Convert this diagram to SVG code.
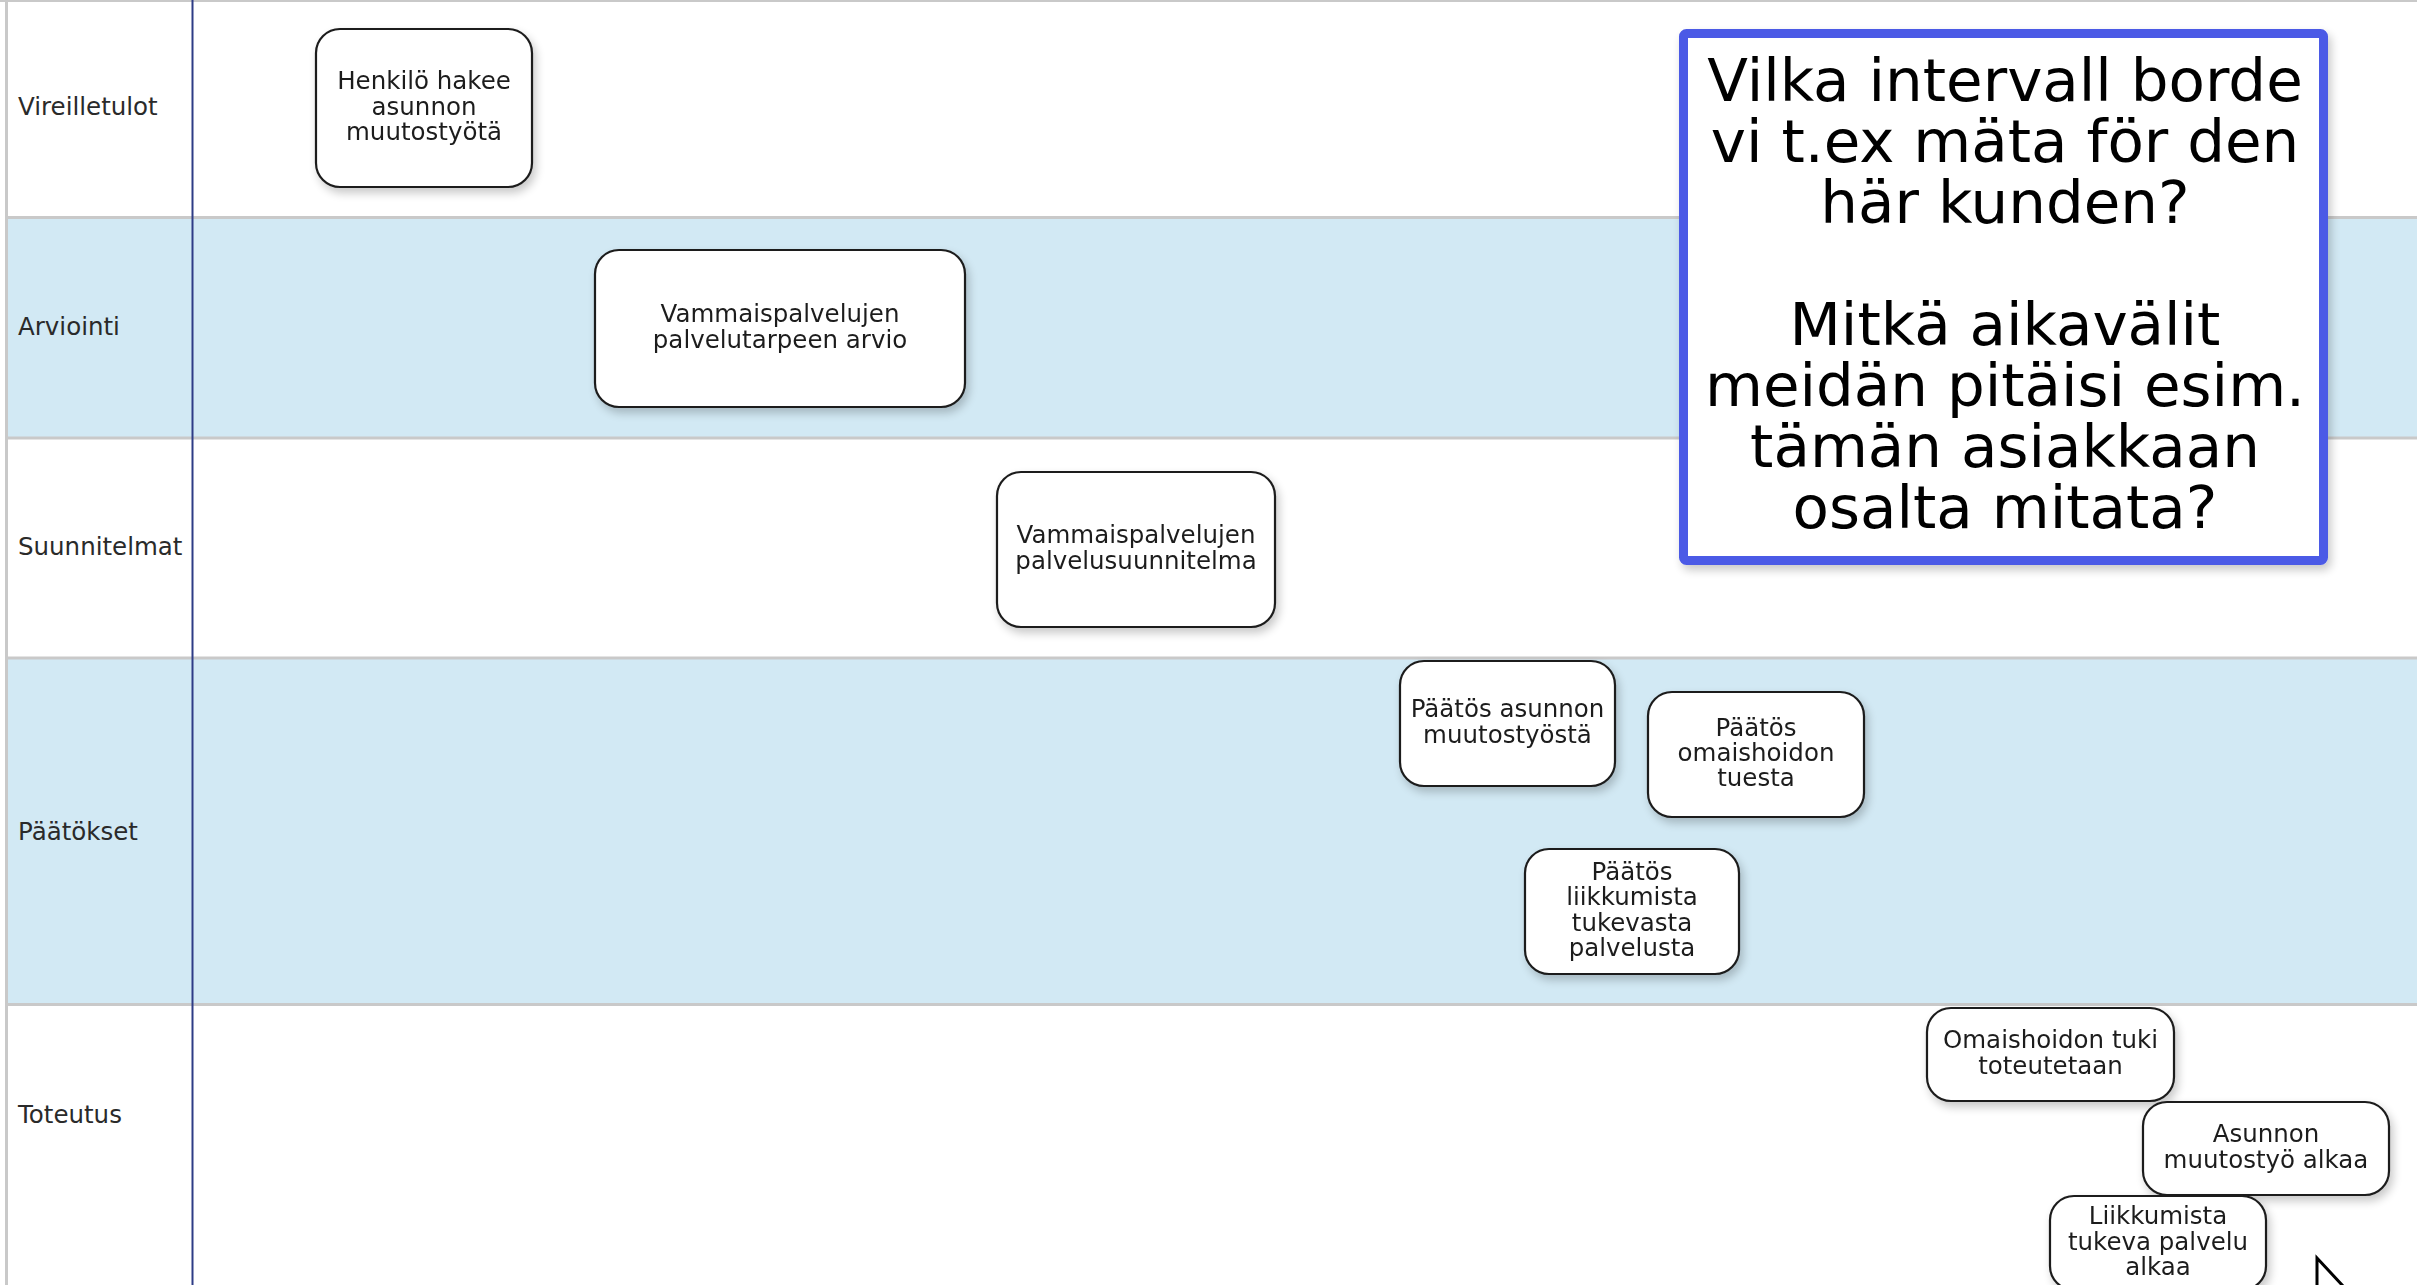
<svg xmlns="http://www.w3.org/2000/svg" width="2417" height="1285" viewBox="0 0 2417 1285">
  <defs>
    <filter id="shadow" x="-20%" y="-20%" width="140%" height="150%">
      <feGaussianBlur in="SourceAlpha" stdDeviation="5"/>
      <feOffset dx="3" dy="5" result="blur"/>
      <feComponentTransfer><feFuncA type="linear" slope="0.22"/></feComponentTransfer>
      <feMerge><feMergeNode/><feMergeNode in="SourceGraphic"/></feMerge>
    </filter>
  </defs>
  <style>
    .lane-white { fill: #ffffff; }
    .lane-blue { fill: #d2e9f4; }
    .lane-line { stroke: #c9c9c9; stroke-width: 3; }
    .lane-label { font-family: "DejaVu Sans", Verdana, sans-serif; font-size: 24.5px; fill: #2a2a2a; }
    .node rect { fill: #ffffff; stroke: #1c1c1c; stroke-width: 2.2; }
    .node text { font-family: "DejaVu Sans", Verdana, sans-serif; font-size: 24.5px; fill: #1e1e1e; text-anchor: middle; }
    .note rect { fill: #ffffff; stroke: #4b5ae6; stroke-width: 9; }
    .note text { font-family: "DejaVu Sans", Verdana, sans-serif; font-size: 59.5px; fill: #000000; text-anchor: middle; }
  </style>

  <!-- swimlanes -->
  <g id="lanes">
    <rect class="lane-white" x="0" y="0" width="2417" height="217"/>
    <rect class="lane-blue" x="6" y="217" width="2411" height="221"/>
    <rect class="lane-white" x="6" y="438" width="2411" height="220"/>
    <rect class="lane-blue" x="6" y="658" width="2411" height="346"/>
    <rect class="lane-white" x="6" y="1004" width="2411" height="281"/>
    <line class="lane-line" x1="0" y1="0.5" x2="2417" y2="0.5" stroke-width="1.5"/>
    <line class="lane-line" x1="6" y1="217.5" x2="2417" y2="217.5"/>
    <line class="lane-line" x1="6" y1="438" x2="2417" y2="438"/>
    <line class="lane-line" x1="6" y1="658" x2="2417" y2="658"/>
    <line class="lane-line" x1="6" y1="1004.5" x2="2417" y2="1004.5" stroke-width="2"/>
    <line class="lane-line" x1="6.5" y1="0" x2="6.5" y2="1285" stroke-width="2.5"/>
    <line x1="192.5" y1="0" x2="192.5" y2="1285" stroke="#2e3c86" stroke-width="2"/>
    <text class="lane-label" x="18" y="115">Vireilletulot</text>
    <text class="lane-label" x="18" y="335">Arviointi</text>
    <text class="lane-label" x="18" y="555">Suunnitelmat</text>
    <text class="lane-label" x="18" y="840">Päätökset</text>
    <text class="lane-label" x="18" y="1123">Toteutus</text>
  </g>

  <!-- connectors (none drawn between the steps) -->
  <g id="connectors"></g>

  <g id="n1" class="node" filter="url(#shadow)">
    <rect x="316" y="29" width="216" height="158" rx="24"/>
    <text x="424" y="89.2"><tspan x="424">Henkilö hakee</tspan><tspan x="424" dy="25.3">asunnon</tspan><tspan x="424" dy="25.3">muutostyötä</tspan></text>
  </g>
  <g id="n2" class="node" filter="url(#shadow)">
    <rect x="595" y="250" width="370" height="157" rx="24"/>
    <text x="780" y="322.4"><tspan x="780">Vammaispalvelujen</tspan><tspan x="780" dy="25.3">palvelutarpeen arvio</tspan></text>
  </g>
  <g id="n3" class="node" filter="url(#shadow)">
    <rect x="997" y="472" width="278" height="155" rx="24"/>
    <text x="1136" y="543.4"><tspan x="1136">Vammaispalvelujen</tspan><tspan x="1136" dy="25.3">palvelusuunnitelma</tspan></text>
  </g>
  <g id="n4" class="node" filter="url(#shadow)">
    <rect x="1400" y="661" width="215" height="125" rx="24"/>
    <text x="1507.5" y="717.4"><tspan x="1507.5">Päätös asunnon</tspan><tspan x="1507.5" dy="25.3">muutostyöstä</tspan></text>
  </g>
  <g id="n5" class="node" filter="url(#shadow)">
    <rect x="1648" y="692" width="216" height="125" rx="24"/>
    <text x="1756" y="735.7"><tspan x="1756">Päätös</tspan><tspan x="1756" dy="25.3">omaishoidon</tspan><tspan x="1756" dy="25.3">tuesta</tspan></text>
  </g>
  <g id="n6" class="node" filter="url(#shadow)">
    <rect x="1525" y="849" width="214" height="125" rx="24"/>
    <text x="1632" y="880"><tspan x="1632">Päätös</tspan><tspan x="1632" dy="25.3">liikkumista</tspan><tspan x="1632" dy="25.3">tukevasta</tspan><tspan x="1632" dy="25.3">palvelusta</tspan></text>
  </g>
  <g id="n7" class="node" filter="url(#shadow)">
    <rect x="1927" y="1008" width="247" height="93" rx="24"/>
    <text x="2050.5" y="1048.4"><tspan x="2050.5">Omaishoidon tuki</tspan><tspan x="2050.5" dy="25.3">toteutetaan</tspan></text>
  </g>
  <g id="n8" class="node" filter="url(#shadow)">
    <rect x="2143" y="1102" width="246" height="93" rx="24"/>
    <text x="2266" y="1142.4"><tspan x="2266">Asunnon</tspan><tspan x="2266" dy="25.3">muutostyö alkaa</tspan></text>
  </g>
  <g id="n9" class="node" filter="url(#shadow)">
    <rect x="2050" y="1196" width="216" height="94" rx="24"/>
    <text x="2158" y="1224.2"><tspan x="2158">Liikkumista</tspan><tspan x="2158" dy="25.3">tukeva palvelu</tspan><tspan x="2158" dy="25.3">alkaa</tspan></text>
  </g>

  <g id="note" class="note" filter="url(#shadow)">
    <rect x="1683.5" y="33.5" width="640" height="527" rx="3"/>
    <text x="2005" y="101"><tspan x="2005">Vilka intervall borde</tspan><tspan x="2005" dy="61">vi t.ex mäta för den</tspan><tspan x="2005" dy="61">här kunden?</tspan><tspan x="2005" dy="122">Mitkä aikavälit</tspan><tspan x="2005" dy="61">meidän pitäisi esim.</tspan><tspan x="2005" dy="61">tämän asiakkaan</tspan><tspan x="2005" dy="61">osalta mitata?</tspan></text>
  </g>

  <!-- mouse pointer at the lower edge -->
  <g id="pointer">
    <polygon points="2317,1258 2317,1318 2330,1305 2339,1326 2347,1322 2338,1302 2356,1300" fill="#ffffff" stroke="#000000" stroke-width="3" stroke-linejoin="miter"/>
  </g>
</svg>
